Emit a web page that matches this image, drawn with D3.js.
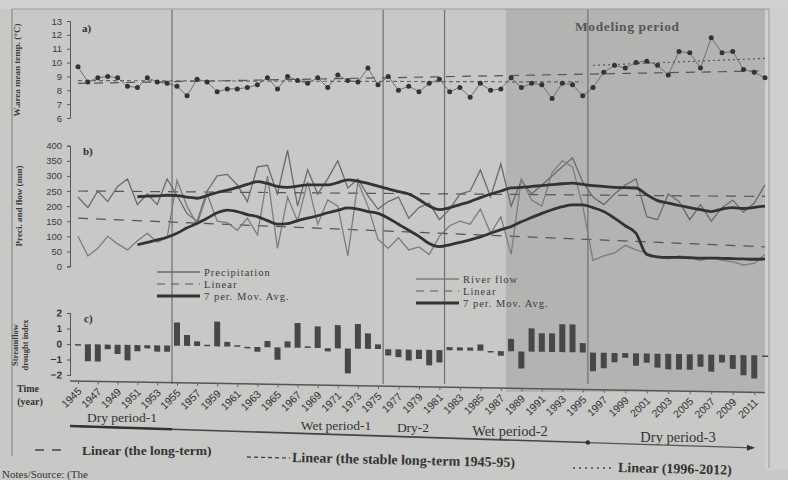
<!DOCTYPE html>
<html><head><meta charset="utf-8">
<script src="https://cdn.jsdelivr.net/npm/d3@7"></script>
<style>
body{margin:0;background:#c7c7c5;}
svg{display:block;font-family:"Liberation Serif","DejaVu Serif",serif;}
</style>
</head><body>
<svg id="chart" width="788" height="480"></svg>
<script>
// ---------------- DATA ----------------
const years = d3.range(1945, 2013);
const temperature = [
  9.7, 8.6, 8.9, 9.0, 8.9, 8.3, 8.2, 8.9, 8.6, 8.5,
  8.3, 7.6, 8.8, 8.6, 7.9, 8.1, 8.1, 8.2, 8.4, 8.9,
  8.1, 9.0, 8.7, 8.5, 8.9, 8.2, 9.1, 8.7, 8.6, 9.6,
  8.4, 9.0, 8.0, 8.3, 7.9, 8.5, 8.8, 7.9, 8.2, 7.5,
  8.5, 8.0, 8.1, 8.9, 8.2, 8.5, 8.4, 7.4, 8.5, 8.4,
  7.6, 8.2, 9.3, 9.8, 9.6, 10.0, 10.1, 9.8, 9.1, 10.8,
  10.7, 9.6, 11.8, 10.7, 10.8, 9.5, 9.3, 8.9
];
const precipitation = [
  230, 195, 250, 215, 265, 290, 205, 240, 205, 290,
  235, 175, 150, 250, 300, 305, 270, 215, 330, 335,
  240, 385, 200, 320, 240, 290, 350, 260, 290, 235,
  190, 215, 230, 160, 195, 210, 155, 190, 240, 250,
  320, 230, 340, 200, 285, 240, 270, 300, 330, 360,
  280, 230, 205, 240, 270, 290, 165, 155, 240, 215,
  155, 205, 150, 195, 220, 180, 210, 270
];
const riverFlow = [
  100, 35, 60, 100, 75, 55, 85, 110, 80, 95,
  285, 200, 140, 240, 150, 145, 120, 160, 105, 300,
  60, 230, 150, 280, 140, 220, 200, 35, 280, 200,
  90, 60, 95, 55, 65, 40, 100, 135, 150, 140,
  190, 110, 165, 40, 290, 220, 200, 310, 350, 330,
  200, 20, 35, 45, 70, 55, 45, 30, 25, 35,
  30, 20, 30, 20, 15, 5, 10, 40
];
const maYears = d3.range(1951, 2013);
const precipMA = [
  231, 233, 234, 236, 235, 230, 226, 235, 245, 253,
  262, 272, 281, 275, 265, 262, 266, 270, 270, 270,
  278, 287, 283, 275, 266, 257, 248, 240, 222, 200,
  188, 195, 205, 215, 228, 240, 250, 260, 262, 265,
  268, 271, 274, 276, 272, 268, 265, 262, 261, 260,
  238, 218, 210, 202, 195, 188, 182, 190, 195, 192,
  196, 200
];
const flowMA = [
  72, 80, 88, 97, 110, 128, 143, 160, 178, 187,
  182, 172, 165, 152, 140, 142, 152, 160, 168, 178,
  186, 194, 190, 182, 176, 160, 140, 120, 100, 76,
  66, 72, 80, 88, 98, 110, 122, 132, 148, 162,
  176, 188, 198, 204, 204, 195, 182, 160, 135, 110,
  40, 32, 30, 30, 29, 28, 28, 27, 26, 25,
  24, 25
];
const sdi = [
  -0.1, -1.1, -1.1, -0.3, -0.6, -1.0, -0.4, -0.2, -0.4, -0.4,
  1.5, 0.7, 0.3, 0.1, 1.6, 0.3, 0.1, 0.0, -0.3, 0.4,
  -0.8, 0.4, 1.6, 0.1, 1.4, -0.2, 1.5, -1.6, 1.6, 1.0,
  0.3, -0.4, -0.5, -0.7, -0.6, -1.0, -0.8, 0.2, 0.2, 0.2,
  0.4, -0.1, -0.3, 0.8, -1.1, 1.5, 1.2, 1.2, 1.8, 1.8,
  0.6, -1.2, -1.0, -0.6, -0.3, -0.8, -0.6, -0.9, -1.0, -1.0,
  -1.0, -0.8, -1.1, -0.5, -0.9, -1.3, -1.5, -0.1
];
const trendYears = [1945, 2012];
const tempLongTerm = [8.5, 9.4];
const stableYears = [1945, 1995];
const tempStable = [8.7, 8.6];
const recentYears = [1996, 2012];
const tempRecent = [9.8, 10.3];
const precipLinear = [250, 232];
const flowLinear = [160, 65];
const periodNames = ["Dry period-1", "Wet period-1", "Dry-2", "Wet period-2", "Dry period-3"];
const periodStart = [1945, 1955, 1976, 1982, 1996];
const periodEnd = [1954, 1975, 1981, 1995, 2012];
const modelStart = 1987.5;
const tempTicks = [6, 7, 8, 9, 10, 11, 12, 13];
const flowTicks = [0, 50, 100, 150, 200, 250, 300, 350, 400];
const sdiTicks = [-2, -1, 0, 1, 2];
const yearTicks = d3.range(1945, 2012, 2);

// ---------------- SCALES ----------------
const svg = d3.select("#chart");
const x = d3.scaleLinear().domain([1945, 1955, 1975, 1996, 2012]).range([78, 177, 378, 593, 765]);
const yA = d3.scaleLinear().domain([6, 13]).range([118, 21]);
const yB = d3.scaleLinear().domain([0, 400]).range([266.5, 145.7]);
const yC = d3.scaleLinear().domain([-2, 2]).range([375, 313]);
const ink = "#2e2e2e";

// background regions
svg.append("rect").attr("x", 0).attr("y", 0).attr("width", 788).attr("height", 480).attr("fill", "#c8c8c6");
svg.append("rect").attr("x", x(modelStart)).attr("y", 0).attr("width", 765 - x(modelStart)).attr("height", 392).attr("fill", "#b3b3b1");
svg.append("rect").attr("x", 765).attr("y", 0).attr("width", 23).attr("height", 470).attr("fill", "#cfcfcd");
svg.append("rect").attr("x", 0).attr("y", 0).attr("width", 788).attr("height", 9).attr("fill", "#d0d0ce");

// frame
svg.append("line").attr("x1", 12).attr("x2", 12).attr("y1", 9).attr("y2", 456).attr("stroke", "#8a8a8a").attr("stroke-width", 1.2);
svg.append("line").attr("x1", 12).attr("x2", 769).attr("y1", 9).attr("y2", 9).attr("stroke", "#9a9a9a").attr("stroke-width", 1);
svg.append("line").attr("x1", 769).attr("x2", 769).attr("y1", 9).attr("y2", 468).attr("stroke", "#9a9a9a").attr("stroke-width", 1);

// period dividers
[1954.5, 1975.5, 1981.5, 1995.5].forEach(b => {
  svg.append("line").attr("x1", x(b)).attr("x2", x(b)).attr("y1", 10).attr("y2", 384)
    .attr("stroke", "#6e6e6e").attr("stroke-width", 1.2);
});

// ---------------- PANEL A ----------------
const gA = svg.append("g");
const axA = d3.axisLeft(yA).tickValues(tempTicks).tickSize(3).tickFormat(d3.format("d"));
gA.append("g").attr("transform", "translate(70,0)").call(axA)
  .call(g => g.selectAll("text").attr("font-size", 9.5).attr("fill", "#3a3a3a").attr("x", -8))
  .call(g => g.selectAll("path,line").attr("stroke", "#555"));
gA.append("text").attr("transform", "translate(20,70) rotate(-90)").attr("text-anchor", "middle")
  .attr("font-size", 9).attr("font-weight", "bold").attr("fill", "#3a3a3a").text("W.area mean temp. (°C)");
gA.append("text").attr("x", 82).attr("y", 32).attr("font-size", 11).attr("font-weight", "bold").attr("fill", ink).text("a)");
gA.append("text").attr("x", 575).attr("y", 31).attr("font-size", 13.5).attr("letter-spacing", 0.6)
  .attr("font-weight", "bold").attr("fill", "#555").text("Modeling period");

const trendLine = (g, xs, ys, ysc, dash, col) => g.append("path")
  .attr("d", d3.line().x((d, i) => x(xs[i])).y(d => ysc(d))(ys))
  .attr("fill", "none").attr("stroke", col).attr("stroke-width", 1.2).attr("stroke-dasharray", dash);
trendLine(gA, trendYears, tempLongTerm, yA, "9,7", "#555");
trendLine(gA, stableYears, tempStable, yA, "4,3", "#666");
trendLine(gA, recentYears, tempRecent, yA, "2,3", "#555");
gA.append("path").datum(temperature)
  .attr("d", d3.line().x((d, i) => x(years[i])).y(d => yA(d)))
  .attr("fill", "none").attr("stroke", "#666").attr("stroke-width", 0.9);
gA.selectAll("circle.t").data(temperature).join("circle")
  .attr("cx", (d, i) => x(years[i])).attr("cy", d => yA(d)).attr("r", 2.5).attr("fill", "#333");

// ---------------- PANEL B ----------------
const gB = svg.append("g");
const axB = d3.axisLeft(yB).tickValues(flowTicks).tickSize(3).tickFormat(d3.format("d"));
gB.append("g").attr("transform", "translate(70,0)").call(axB)
  .call(g => g.selectAll("text").attr("font-size", 9.5).attr("fill", "#3a3a3a").attr("x", -8))
  .call(g => g.selectAll("path,line").attr("stroke", "#555"));
gB.append("text").attr("transform", "translate(22,206) rotate(-90)").attr("text-anchor", "middle")
  .attr("font-size", 9).attr("font-weight", "bold").attr("fill", "#3a3a3a").text("Preci. and flow (mm)");
gB.append("text").attr("x", 83).attr("y", 155).attr("font-size", 11).attr("font-weight", "bold").attr("fill", ink).text("b)");

trendLine(gB, trendYears, precipLinear, yB, "10,8", "#555");
trendLine(gB, trendYears, flowLinear, yB, "10,8", "#555");
gB.append("path").datum(precipitation)
  .attr("d", d3.line().x((d, i) => x(years[i])).y(d => yB(d)))
  .attr("fill", "none").attr("stroke", "#6a6a6a").attr("stroke-width", 1.3);
gB.append("path").datum(riverFlow)
  .attr("d", d3.line().x((d, i) => x(years[i])).y(d => yB(d)))
  .attr("fill", "none").attr("stroke", "#7c7c7c").attr("stroke-width", 1.3);
gB.append("path").datum(precipMA)
  .attr("d", d3.line().curve(d3.curveMonotoneX).x((d, i) => x(maYears[i])).y(d => yB(d)))
  .attr("fill", "none").attr("stroke", "#333").attr("stroke-width", 2.8);
gB.append("path").datum(flowMA)
  .attr("d", d3.line().curve(d3.curveMonotoneX).x((d, i) => x(maYears[i])).y(d => yB(d)))
  .attr("fill", "none").attr("stroke", "#333").attr("stroke-width", 2.8);

// legends in panel b
const legend = (lx, ly, entries) => {
  entries.forEach((e, i) => {
    const yy = ly + i * 12;
    svg.append("line").attr("x1", lx).attr("x2", lx + 43).attr("y1", yy).attr("y2", yy)
      .attr("stroke", e.col).attr("stroke-width", e.w).attr("stroke-dasharray", e.dash);
    svg.append("text").attr("x", lx + 47).attr("y", yy + 3.5).attr("font-size", 10.5).attr("letter-spacing", 1)
      .attr("fill", "#3a3a3a").text(e.label);
  });
};
legend(157, 272, [
  {label: "Precipitation", col: "#6a6a6a", w: 1.3, dash: null},
  {label: "Linear", col: "#555", w: 1.2, dash: "8,6"},
  {label: "7 per. Mov. Avg.", col: "#333", w: 2.8, dash: null}
]);
legend(416, 279, [
  {label: "River flow", col: "#7c7c7c", w: 1.3, dash: null},
  {label: "Linear", col: "#555", w: 1.2, dash: "8,6"},
  {label: "7 per. Mov. Avg.", col: "#333", w: 3.2, dash: null}
]);

// ---------------- PANEL C (slightly skewed like the photo) ----------------
const gC = svg.append("g").attr("transform", "translate(0,-1.2) skewY(0.95)");
const axC = d3.axisLeft(yC).tickValues(sdiTicks).tickSize(3).tickFormat(d3.format("d"));
gC.append("g").attr("transform", "translate(70,0)").call(axC)
  .call(g => g.selectAll("text").attr("font-size", 10).attr("font-weight", "bold").attr("fill", "#333").attr("x", -8))
  .call(g => g.selectAll("path,line").attr("stroke", "#555"));
gC.append("text").attr("x", 84).attr("y", 322).attr("font-size", 11).attr("font-weight", "bold").attr("fill", ink).text("c)");
gC.selectAll("rect.bar").data(sdi).join("rect")
  .attr("x", (d, i) => x(years[i]) - 3).attr("width", 6)
  .attr("y", d => yC(Math.max(0, d)))
  .attr("height", d => Math.max(1.5, Math.abs(yC(d) - yC(0))))
  .attr("fill", "#474747");

// bottom time axis
const axX = d3.axisBottom(x).tickValues(yearTicks).tickSize(3).tickFormat(d3.format("d"));
gC.append("g").attr("transform", "translate(0,381)").call(axX)
  .call(g => g.select(".domain").attr("d", "M70,0H765").attr("stroke", "#555").attr("stroke-width", 1.5))
  .call(g => g.selectAll("line").attr("stroke", "#666"))
  .call(g => g.selectAll("text").attr("font-size", 10.5).attr("fill", "#333")
    .attr("text-anchor", "end").attr("transform", "translate(-3,4) rotate(-45)").attr("y", 6).attr("x", 0).attr("dy", "0.35em"));
svg.append("text").attr("x", 28).attr("y", 392).attr("text-anchor", "middle")
  .attr("font-size", 10).attr("font-weight", "bold").attr("fill", "#333").text("Time");
svg.append("text").attr("x", 30).attr("y", 405).attr("text-anchor", "middle")
  .attr("font-size", 10).attr("font-weight", "bold").attr("fill", "#333").text("(year)");
svg.append("text").attr("transform", "translate(18,345) rotate(-90)").attr("text-anchor", "middle")
  .attr("font-size", 8.5).attr("font-weight", "bold").attr("fill", "#3a3a3a").text("Streamflow");
svg.append("text").attr("transform", "translate(28,345) rotate(-90)").attr("text-anchor", "middle")
  .attr("font-size", 8.5).attr("font-weight", "bold").attr("fill", "#3a3a3a").text("drought index");

// ---------------- PERIOD LABELS ----------------
const labelX = [122, 336, 413, 510, 678];
const labelSize = [13.5, 13.5, 13.5, 14.5, 14.5];
const textY = px => 422 + (px - 122) * 0.036;
const lineY = px => 426 + (px - 70) * 0.032;
periodNames.forEach((name, i) => {
  svg.append("text").attr("x", labelX[i]).attr("y", textY(labelX[i])).attr("text-anchor", "middle")
    .attr("font-size", labelSize[i]).attr("fill", "#333").text(name);
});
const bx0 = 70, bx1 = x(1995.5), bx2 = 753;
svg.append("line").attr("x1", bx0).attr("x2", bx1).attr("y1", lineY(bx0)).attr("y2", lineY(bx1))
  .attr("stroke", "#444").attr("stroke-width", 1.6);
svg.append("line").attr("x1", bx0).attr("x2", x(1954.5)).attr("y1", lineY(bx0)).attr("y2", lineY(x(1954.5)))
  .attr("stroke", "#333").attr("stroke-width", 2.6);
svg.append("line").attr("x1", bx1).attr("x2", bx2).attr("y1", lineY(bx1)).attr("y2", lineY(bx2))
  .attr("stroke", "#555").attr("stroke-width", 1.2);
svg.append("circle").attr("cx", bx1).attr("cy", lineY(bx1)).attr("r", 2.2).attr("fill", "#333");
svg.append("path").attr("d", `M${bx2 - 6},${lineY(bx2) - 3}L${bx2 + 2},${lineY(bx2)}L${bx2 - 6},${lineY(bx2) + 3}Z`).attr("fill", "#333");

// ---------------- BOTTOM LEGEND ----------------
svg.append("line").attr("x1", 35).attr("x2", 63).attr("y1", 450).attr("y2", 450)
  .attr("stroke", "#444").attr("stroke-width", 1.3).attr("stroke-dasharray", "9,8");
svg.append("text").attr("x", 82).attr("y", 455).attr("font-size", 13.5).attr("font-weight", "bold").attr("fill", "#333").text("Linear (the long-term)");
svg.append("line").attr("x1", 247).attr("x2", 290).attr("y1", 457).attr("y2", 458)
  .attr("stroke", "#444").attr("stroke-width", 1.3).attr("stroke-dasharray", "4,3");
svg.append("text").attr("x", 292).attr("y", 462).attr("font-size", 14).attr("font-weight", "bold").attr("fill", "#333")
  .attr("transform", "rotate(1.3,292,462)").text("Linear (the stable long-term 1945-95)");
svg.append("line").attr("x1", 573).attr("x2", 615).attr("y1", 468).attr("y2", 468)
  .attr("stroke", "#444").attr("stroke-width", 1.6).attr("stroke-dasharray", "2,4");
svg.append("text").attr("x", 618).attr("y", 472).attr("font-size", 14).attr("font-weight", "bold").attr("fill", "#333")
  .attr("transform", "rotate(1.3,618,472)").text("Linear (1996-2012)");
svg.append("text").attr("x", 2).attr("y", 478).attr("font-size", 11).attr("fill", "#333").text("Notes/Source: (The");
</script>
</body></html>
